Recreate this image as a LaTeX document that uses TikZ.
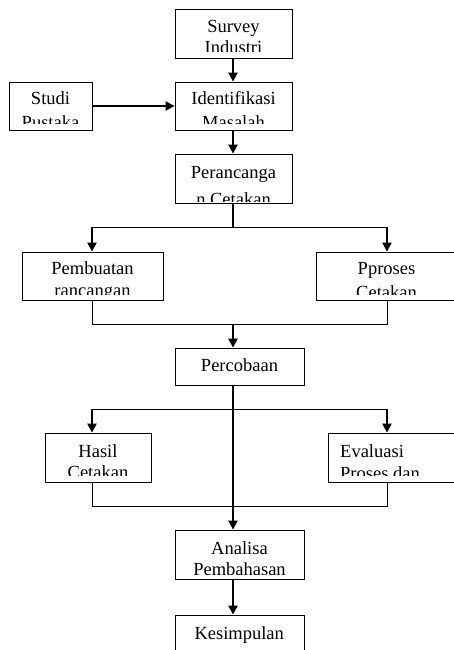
\documentclass[tikz,border=0pt]{standalone}
\usepackage{fontspec}
\setmainfont{Liberation Serif}
\usetikzlibrary{arrows.meta}
\tikzset{
  box/.style={draw, line width=0.8pt, rectangle, inner sep=0pt},
  txt/.style={anchor=base, inner sep=0pt, font=\fontsize{18.5}{21}\selectfont},
  txtl/.style={txt, anchor=base west},
  thickln/.style={line width=2.2pt},
  arr/.style={line width=2.2pt, -{Triangle[length=9pt,width=9pt]}},
  thinln/.style={line width=0.9pt}
}
\newcommand\mybox[5]{\node[box, minimum width={(#4-#2)*1pt}, minimum height={(#5-#3)*1pt}] (#1) at ({(#2+#4)/2},{(#3+#5)/2}) {};}
\begin{document}
\begin{tikzpicture}[x=1pt,y=-1pt]
\useasboundingbox (0,0) rectangle (453,650);
% boxes
\mybox{survey}{175}{9}{292}{58}
\mybox{studi}{9}{82}{92}{130}
\mybox{ident}{175}{82}{292}{130}
\mybox{peranc}{175}{154}{292}{203}
\mybox{pemb}{22}{252}{163}{300}
\mybox{pproses}{316}{252}{458}{300}
\mybox{percob}{175}{348}{304}{385}
\mybox{hasil}{45}{433}{151}{482}
\mybox{eval}{328}{433}{458}{482}
\mybox{analisa}{175}{530}{304}{579}
\mybox{kesimp}{175}{615}{304}{654}
% texts
\begin{scope}\clip (175,9) rectangle (292,51.7);
\node[txt] (surveyA) at (233.5,33) {Survey};
\node[txt] (surveyB) at (233.5,54) {Industri};
\end{scope}
\begin{scope}\clip (9,82) rectangle (92,124);
\node[txt] (studiA) at (50.5,105) {Studi};
\node[txt] (studiB) at (50.5,128.3) {Pustaka};
\end{scope}
\begin{scope}\clip (175,82) rectangle (292,124);
\node[txt] (identA) at (233.5,105) {Identifikasi};
\node[txt] (identB) at (233.5,128.3) {Masalah};
\end{scope}
\begin{scope}\clip (175,154) rectangle (292,201.7);
\node[txt] (perancA) at (233.5,178) {Perancanga};
\node[txt] (perancB) at (233.5,205) {n Cetakan};
\end{scope}
\begin{scope}\clip (22,252) rectangle (163,294);
\node[txt] (pembA) at (92.5,274.6) {Pembuatan};
\node[txt] (pembB) at (92.5,296.5) {rancangan};
\end{scope}
\begin{scope}\clip (316,252) rectangle (458,294);
\node[txt] (pprosesA) at (386.5,274.6) {Pproses};
\node[txt] (pprosesB) at (386.5,298) {Cetakan};
\end{scope}
\node[txt] (percobA) at (239.5,371.3) {Percobaan};
\begin{scope}\clip (45,433) rectangle (151,475.7);
\node[txt] (hasilA) at (98,457.3) {Hasil};
\node[txt] (hasilB) at (98,478.3) {Cetakan};
\end{scope}
\begin{scope}\clip (328,433) rectangle (458,475.7);
\node[txtl] (evalA) at (340,457.3) {Evaluasi};
\node[txtl] (evalB) at (340,479) {Proses dan};
\end{scope}
\begin{scope}\clip (175,530) rectangle (304,574);
\node[txt] (analisaA) at (239.5,554) {Analisa};
\node[txt] (analisaB) at (239.5,575.6) {Pembahasan};
\end{scope}
\node[txt] (kesimpA) at (239.2,639) {Kesimpulan};
% coordinates
\coordinate (s1) at (233,227);
\coordinate (s1l) at (92,227);
\coordinate (s1r) at (387,227);
\coordinate (j1) at (233,324);
\coordinate (j1l) at (92,324);
\coordinate (j1r) at (387,324);
\coordinate (s2) at (233,409);
\coordinate (s2l) at (92,409);
\coordinate (s2r) at (387,409);
\coordinate (j2l) at (92,506);
\coordinate (j2r) at (387,506);
% connectors
\draw[arr] (survey.south -| s1) -- (ident.north -| s1);
\draw[arr] (studi.east) -- (ident.west);
\draw[arr] (ident.south -| s1) -- (peranc.north -| s1);
\draw[thickln] (peranc.south -| s1) -- (s1);
\draw[thinln] (s1l) -- (s1r);
\draw[arr] (s1l) -- (pemb.north -| s1l);
\draw[arr] (s1r) -- (pproses.north -| s1r);
\draw[thinln] (pemb.south -| j1l) -- (j1l) -- (j1r) -- (pproses.south -| j1r);
\draw[arr] (j1) -- (percob.north -| j1);
\draw[thinln] (s2l) -- (s2r);
\draw[arr] (s2l) -- (hasil.north -| s2l);
\draw[arr] (s2r) -- (eval.north -| s2r);
\draw[thinln] (hasil.south -| j2l) -- (j2l) -- (j2r) -- (eval.south -| j2r);
\draw[arr] (percob.south -| s2) -- (analisa.north -| s2);
\draw[arr] (analisa.south -| s2) -- (kesimp.north -| s2);
\end{tikzpicture}
\end{document}
